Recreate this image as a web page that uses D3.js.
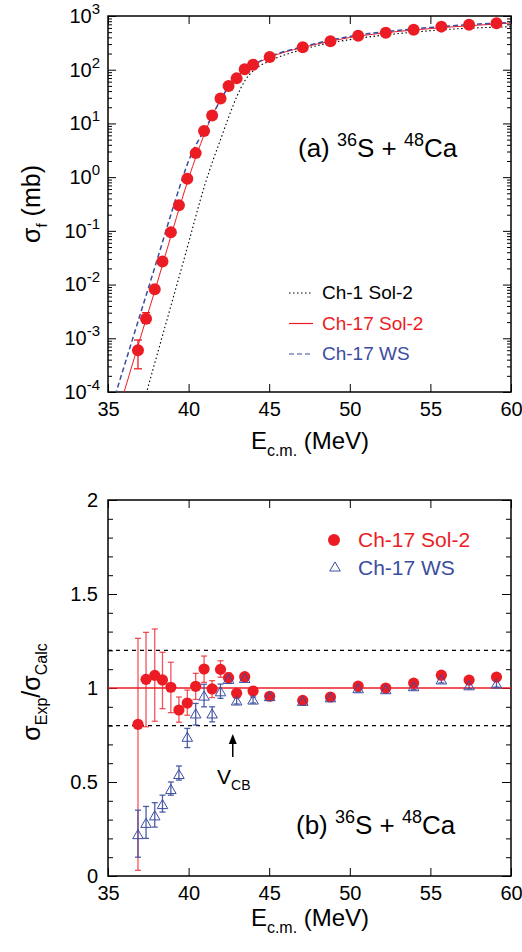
<!DOCTYPE html>
<html>
<head>
<meta charset="utf-8">
<script src="https://cdn.jsdelivr.net/npm/d3@7"></script>
<style>
  body { margin: 0; background: #fff; }
  text { font-family: "Liberation Sans", Arial, Helvetica, sans-serif; }
</style>
</head>
<body>
<div id="chart"></div>
<script>
// measured energies (MeV), shared by both panels
var energy = [36.86, 37.36, 37.9, 38.38, 38.9, 39.4, 39.92, 40.44, 40.96, 41.46, 41.98, 42.48,
              42.98, 43.48, 44.0, 45.03, 47.08, 48.8, 50.52, 52.23, 53.96, 55.68, 57.4, 59.1];

// panel (a): fission cross section (mb)
var sigmaExp = [6e-4, 2.3e-3, 8.2e-3, 0.027, 0.094, 0.30, 0.93, 2.8, 7.2, 14, 29, 50,
                69, 102, 124, 173, 262, 338, 430, 490, 557, 634, 690, 731];
var sigmaLo  = [2.7e-4, 1.9e-3, 7.4e-3];
var sigmaHi  = [9.3e-4, 3.0e-3, 9.2e-3];

// calculations
var ch1SolE = [37.3, 38, 39, 40, 40.7, 41, 41.5, 42, 42.5, 43, 43.5, 44, 45, 46, 47, 48, 50, 52, 54, 56, 58, 60];
var ch1Sol  = [7.9e-5, 4.4e-4, 5.1e-3, 0.060, 0.35, 0.71, 2.0, 5.2, 13.5, 32, 63, 95, 145, 191, 234, 282, 363, 437, 501, 562, 603, 631];
var ch17SolE = [36, 37, 38, 39, 40, 40.5, 41, 41.5, 42, 42.5, 43, 43.5, 44, 45, 46, 47, 48, 50, 52, 54, 56, 58, 60];
var ch17Sol  = [1e-4, 1e-3, 9.5e-3, 0.1, 0.95, 2.6, 6.6, 14.8, 28, 48, 72, 98, 120, 170, 214, 257, 302, 398, 479, 550, 617, 676, 741];
var ch17WsE = [35.3, 36, 37, 38, 39, 39.6, 40, 40.5, 41, 41.5, 42, 42.5, 43, 44, 45, 47, 50, 54, 58, 60];
var ch17Ws  = [6.3e-5, 3.0e-4, 2.8e-3, 0.026, 0.25, 0.91, 2.0, 4.2, 7.6, 14.5, 28, 49, 74, 123, 174, 263, 417, 575, 708, 759];

// panel (b): sigma_exp / sigma_calc
var ratioSol   = [0.807, 1.046, 1.067, 1.043, 1.004, 0.883, 0.92, 1.009, 1.101, 0.995, 1.099, 1.055,
                  0.972, 1.06, 0.984, 0.956, 0.934, 0.952, 1.01, 1.0, 1.026, 1.068, 1.042, 1.058];
var ratioSolLo = [0.03, 0.794, 0.823, 0.89, 0.869, 0.818, 0.855, 0.939, 1.03, 0.949, 1.057, 1.03,
                  0.96, 1.05, 0.975, 0.948, 0.926, 0.944, 1.002, 0.992, 1.018, 1.06, 1.034, 1.05];
var ratioSolHi = [1.264, 1.296, 1.314, 1.19, 1.137, 0.952, 0.989, 1.078, 1.17, 1.039, 1.145, 1.08,
                  0.985, 1.07, 0.993, 0.964, 0.942, 0.96, 1.018, 1.008, 1.034, 1.076, 1.05, 1.066];
var ratioWs   = [0.22, 0.28, 0.32, 0.38, 0.46, 0.54, 0.738, 0.862, 0.957, 0.862, 0.98, 1.046,
                 0.931, 1.051, 0.936, 0.954, 0.929, 0.948, 0.996, 0.991, 1.007, 1.043, 1.012, 1.021];
var ratioWsLo = [0.10, 0.2, 0.26, 0.34, 0.43, 0.51, 0.683, 0.803, 0.9, 0.82, 0.945, 1.025,
                 0.915, 1.035, 0.92, 0.938, 0.913, 0.932, 0.98, 0.975, 0.991, 1.027, 0.996, 1.005];
var ratioWsHi = [0.35, 0.37, 0.39, 0.43, 0.50, 0.585, 0.785, 0.918, 1.02, 0.9, 1.021, 1.067,
                 0.947, 1.067, 0.952, 0.97, 0.945, 0.964, 1.012, 1.007, 1.023, 1.059, 1.028, 1.037];
var ratioRefLines = [0.8, 1.0, 1.2];
var vcb = 42.74;

// tick labels
var xTicks = [35, 40, 45, 50, 55, 60];
var logTicks = [-4, -3, -2, -1, 0, 1, 2, 3];
var ratioTicks = [0, 0.5, 1, 1.5, 2];

var RED = "#ec1c24", BLUE = "#3b4da0";

var svg = d3.select("#chart").append("svg")
    .attr("width", 522)
    .attr("height", 952);

var x = d3.scaleLinear().domain([35, 60]).range([108, 511]);
var yA = d3.scaleLog().domain([1e-4, 1e3]).range([392, 16]);
var yB = d3.scaleLinear().domain([0, 2]).range([876, 500]);

function frame(y0, y1) {
  svg.append("rect")
      .attr("x", 108).attr("y", y1)
      .attr("width", 511 - 108).attr("height", y0 - y1)
      .attr("fill", "none").attr("stroke", "#000").attr("stroke-width", 1.5);
}

function xAxes(y0, y1) {
  svg.append("g")
      .attr("transform", "translate(0," + y0 + ")")
      .call(d3.axisBottom(x).tickValues(xTicks).tickSizeInner(-8).tickSizeOuter(0).tickPadding(10))
      .call(function(g) { g.select(".domain").remove(); })
      .selectAll("text").attr("font-size", 20).attr("fill", "#000");
  svg.append("g")
      .attr("transform", "translate(0," + y1 + ")")
      .call(d3.axisTop(x).tickValues(xTicks).tickSizeInner(-8).tickSizeOuter(0).tickFormat(""))
      .call(function(g) { g.select(".domain").remove(); });
}

// ---------- panel (a) ----------
var clipA = svg.append("clipPath").attr("id", "clipA");
clipA.append("rect").attr("x", 108).attr("y", 16).attr("width", 403).attr("height", 376);

frame(392, 16);
xAxes(392, 16);

var minorLog = [];
logTicks.slice(0, -1).forEach(function(p) {
  for (var m = 2; m <= 9; m++) minorLog.push(m * Math.pow(10, p));
});
var majorLog = logTicks.map(function(p) { return Math.pow(10, p); });

[["left", 108], ["right", 511]].forEach(function(s) {
  var ax = s[0] == "left" ? d3.axisLeft : d3.axisRight;
  svg.append("g").attr("transform", "translate(" + s[1] + ",0)")
      .call(ax(yA).tickValues(minorLog).tickSizeInner(-4).tickSizeOuter(0).tickFormat(""))
      .call(function(g) { g.select(".domain").remove(); });
  var g = svg.append("g").attr("transform", "translate(" + s[1] + ",0)")
      .call(ax(yA).tickValues(majorLog).tickSizeInner(-8).tickSizeOuter(0).tickPadding(8)
        .tickFormat(s[0] == "left" ? function() { return ""; } : ""))
      .call(function(g) { g.select(".domain").remove(); });
  if (s[0] == "left") {
    // rebuild labels as 10 with superscript exponent
    g.selectAll(".tick text").each(function(d) {
      var t = d3.select(this).attr("font-size", 20).attr("fill", "#000");
      var p = Math.round(Math.log10(d));
      t.append("tspan").text("10");
      t.append("tspan").attr("dy", -9).attr("font-size", 15).text(p);
    });
  }
});

// calculated curves
var lineA = d3.line()
    .x(function(d) { return x(d[0]); })
    .y(function(d) { return yA(d[1]); })
    .curve(d3.curveMonotoneX);

var curves = [
  { e: ch1SolE, v: ch1Sol, color: "#000", dash: "1.5,2.5", width: 1.1 },
  { e: ch17SolE, v: ch17Sol, color: RED, dash: null, width: 1 },
  { e: ch17WsE, v: ch17Ws, color: BLUE, dash: "5,3", width: 1.5 }
];
curves.forEach(function(c) {
  svg.append("path")
      .datum(d3.zip(c.e, c.v))
      .attr("clip-path", "url(#clipA)")
      .attr("fill", "none")
      .attr("stroke", c.color)
      .attr("stroke-width", c.width)
      .attr("stroke-dasharray", c.dash)
      .attr("d", lineA);
});

// error bars then data points
sigmaLo.forEach(function(lo, i) {
  var e = energy[i];
  var g = svg.append("g").attr("stroke", RED).attr("stroke-width", 1.3);
  g.append("line").attr("x1", x(e)).attr("x2", x(e)).attr("y1", yA(lo)).attr("y2", yA(sigmaHi[i]));
  g.append("line").attr("x1", x(e) - 4).attr("x2", x(e) + 4).attr("y1", yA(lo)).attr("y2", yA(lo));
  g.append("line").attr("x1", x(e) - 4).attr("x2", x(e) + 4).attr("y1", yA(sigmaHi[i])).attr("y2", yA(sigmaHi[i]));
});
svg.append("g").selectAll("circle")
    .data(d3.zip(energy, sigmaExp))
  .enter().append("circle")
    .attr("cx", function(d) { return x(d[0]); })
    .attr("cy", function(d) { return yA(d[1]); })
    .attr("r", 6)
    .attr("fill", RED);

// legend (a)
var legA = [["Ch-1 Sol-2", "#000", "1.5,2.5"], ["Ch-17 Sol-2", RED, null], ["Ch-17 WS", BLUE, "5,3"]];
legA.forEach(function(l, i) {
  var yy = 293 + i * 30.5;
  svg.append("line").attr("x1", 289).attr("x2", 313).attr("y1", yy).attr("y2", yy)
      .attr("stroke", l[1]).attr("stroke-width", 1.2).attr("stroke-dasharray", l[2]);
  svg.append("text").attr("x", 322).attr("y", yy + 6).attr("font-size", 19).attr("fill", l[1]).text(l[0]);
});

function reaction(tx, ty, tag) {
  var t = svg.append("text").attr("x", tx).attr("y", ty).attr("font-size", 26).attr("fill", "#000");
  t.append("tspan").text(tag + "  ");
  t.append("tspan").attr("dy", -11).attr("font-size", 18).text("36");
  t.append("tspan").attr("dy", 11).text("S + ");
  t.append("tspan").attr("dy", -11).attr("font-size", 18).text("48");
  t.append("tspan").attr("dy", 11).text("Ca");
}
reaction(298, 157, "(a)");

// axis titles (a)
var ta = svg.append("text").attr("transform", "translate(40,204) rotate(-90)")
    .attr("text-anchor", "middle").attr("font-size", 25);
ta.append("tspan").text("σ");
ta.append("tspan").attr("dy", 7).attr("font-size", 15).text("f");
ta.append("tspan").attr("dy", -7).text(" (mb)");

function xTitle(ty) {
  var t = svg.append("text").attr("x", 310).attr("y", ty).attr("text-anchor", "middle").attr("font-size", 24);
  t.append("tspan").text("E");
  t.append("tspan").attr("dy", 7).attr("font-size", 16).text("c.m.");
  t.append("tspan").attr("dy", -7).text(" (MeV)");
}
xTitle(449);

// ---------- panel (b) ----------
frame(876, 500);
xAxes(876, 500);

var minorRatio = d3.range(0, 21).map(function(i) { return i / 10; });
[["left", 108], ["right", 511]].forEach(function(s) {
  var ax = s[0] == "left" ? d3.axisLeft : d3.axisRight;
  svg.append("g").attr("transform", "translate(" + s[1] + ",0)")
      .call(ax(yB).tickValues(minorRatio).tickSizeInner(-5).tickSizeOuter(0).tickFormat(""))
      .call(function(g) { g.select(".domain").remove(); });
  svg.append("g").attr("transform", "translate(" + s[1] + ",0)")
      .call(ax(yB).tickValues(ratioTicks).tickSizeInner(-9).tickSizeOuter(0).tickPadding(10)
        .tickFormat(s[0] == "left" ? d3.format("") : ""))
      .call(function(g) { g.select(".domain").remove(); })
      .selectAll("text").attr("font-size", 20).attr("fill", "#000");
});

ratioRefLines.forEach(function(v) {
  svg.append("line")
      .attr("x1", x(35)).attr("x2", x(60))
      .attr("y1", yB(v)).attr("y2", yB(v))
      .attr("stroke", v == 1 ? RED : "#000")
      .attr("stroke-width", v == 1 ? 1.3 : 1.1)
      .attr("stroke-dasharray", v == 1 ? null : "4,4");
});

function errBars(vals, lo, hi, color, op) {
  var g = svg.append("g").attr("stroke", color).attr("stroke-width", 1.3).attr("stroke-opacity", op);
  vals.forEach(function(v, i) {
    var e = energy[i];
    g.append("line").attr("x1", x(e)).attr("x2", x(e)).attr("y1", yB(lo[i])).attr("y2", yB(hi[i]));
    [lo[i], hi[i]].forEach(function(c) {
      g.append("line").attr("x1", x(e) - 3).attr("x2", x(e) + 3).attr("y1", yB(c)).attr("y2", yB(c));
    });
  });
}
errBars(ratioSol, ratioSolLo, ratioSolHi, RED, 0.75);
errBars(ratioWs, ratioWsLo, ratioWsHi, BLUE, 0.9);

svg.append("g").selectAll("circle")
    .data(d3.zip(energy, ratioSol))
  .enter().append("circle")
    .attr("cx", function(d) { return x(d[0]); })
    .attr("cy", function(d) { return yB(d[1]); })
    .attr("r", 5.6)
    .attr("fill", RED);

var tri = d3.symbol().type(d3.symbolTriangle).size(48);
svg.append("g").selectAll("path")
    .data(d3.zip(energy, ratioWs))
  .enter().append("path")
    .attr("d", tri)
    .attr("transform", function(d) { return "translate(" + x(d[0]) + "," + (yB(d[1]) + 1) + ")"; })
    .attr("fill", "none")
    .attr("stroke", BLUE)
    .attr("stroke-width", 1);

// V_CB arrow
svg.append("line")
    .attr("x1", x(vcb)).attr("x2", x(vcb))
    .attr("y1", 757).attr("y2", 742)
    .attr("stroke", "#000").attr("stroke-width", 1.5);
svg.append("path")
    .attr("d", "M" + x(vcb) + ",734 l-4,10 l8,0 z")
    .attr("fill", "#000");
var tv = svg.append("text").attr("x", 217).attr("y", 784).attr("font-size", 21);
tv.append("tspan").text("V");
tv.append("tspan").attr("dy", 6).attr("font-size", 14).text("CB");

// legend (b)
svg.append("circle").attr("cx", 334).attr("cy", 540).attr("r", 6).attr("fill", RED);
svg.append("text").attr("x", 358).attr("y", 547).attr("font-size", 21).attr("fill", RED).text("Ch-17 Sol-2");
svg.append("path").attr("d", tri).attr("transform", "translate(335,568)")
    .attr("fill", "none").attr("stroke", BLUE).attr("stroke-width", 1);
svg.append("text").attr("x", 358).attr("y", 575).attr("font-size", 21).attr("fill", BLUE).text("Ch-17 WS");

reaction(296, 834, "(b)");

var tb = svg.append("text").attr("transform", "translate(40,692) rotate(-90)")
    .attr("text-anchor", "middle").attr("font-size", 25);
tb.append("tspan").text("σ");
tb.append("tspan").attr("dy", 7).attr("font-size", 16).text("Exp");
tb.append("tspan").attr("dy", -7).text("/σ");
tb.append("tspan").attr("dy", 7).attr("font-size", 16).text("Calc");

xTitle(926);
</script>
</body>
</html>
